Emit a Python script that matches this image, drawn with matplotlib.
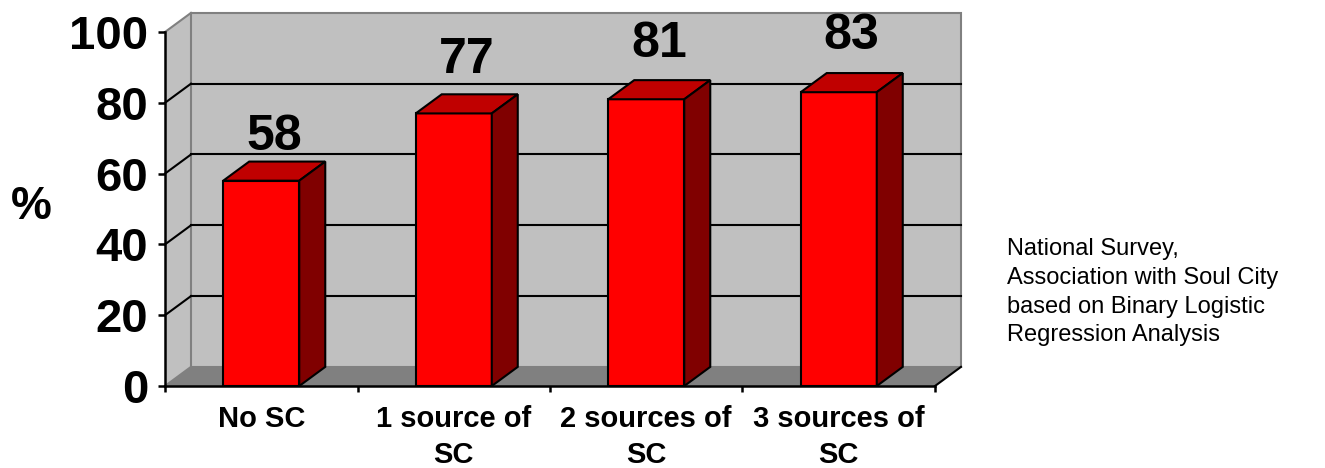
import matplotlib
matplotlib.use("Agg")
import matplotlib.pyplot as plt
from matplotlib.patches import Polygon

categories = ["No SC", "1 source of\nSC", "2 sources of\nSC", "3 sources of\nSC"]
values = [58, 77, 81, 83]
yticks = [0, 20, 40, 60, 80, 100]
note = "National Survey,\nAssociation with Soul City\nbased on Binary Logistic\nRegression Analysis"

plt.rcParams['font.family'] = ['Liberation Sans', 'DejaVu Sans']

FRONT = "#FF0000"
TOP = "#C00000"
SIDE = "#800000"
WALL = "#C0C0C0"
FLOOR = "#808080"
EDGE = "#808080"

# depth of the fake 3d box, in data units
DX = 0.135
DY = 5.4
BAR_W = 0.395

W, H = 1325, 468
fig = plt.figure(figsize=(W / 100, H / 100), dpi=100)
ax = fig.add_axes([165 / W, 1 - 386 / H, 770 / W, 354 / H])
n = len(categories)
ax.set_xlim(0, n)
ax.set_ylim(0, 100)
ax.set_facecolor("none")

# walls and floor
left_wall = Polygon([(0, 0), (DX, DY), (DX, 100 + DY), (0, 100)],
                    closed=True, facecolor=WALL, edgecolor="none", zorder=0, clip_on=False)
back_wall = Polygon([(DX, DY), (n + DX, DY), (n + DX, 100 + DY), (DX, 100 + DY)],
                    closed=True, facecolor=WALL, edgecolor=EDGE, lw=1.5, zorder=0, clip_on=False)
floor = Polygon([(0, 0), (n, 0), (n + DX, DY), (DX, DY)],
                closed=True, facecolor=FLOOR, edgecolor="none", zorder=0.5, clip_on=False)
for p in (left_wall, back_wall, floor):
    ax.add_patch(p)

for t in yticks:
    col = EDGE if t in (0, 100) else "black"
    ax.plot([0, DX], [t, t + DY], color=col, lw=1.5, zorder=1, clip_on=False)
    if 0 < t < 100:
        ax.plot([DX, n + DX], [t + DY, t + DY], color="black", lw=1.5, zorder=1, clip_on=False)
ax.plot([n, n + DX], [0, DY], color="black", lw=1.5, zorder=1, clip_on=False)

# bars
xs = [i + 0.5 for i in range(n)]
ax.bar(xs, values, width=BAR_W, color=FRONT, edgecolor="black", lw=1.5, zorder=3)
for x, v in zip(xs, values):
    x0, x1 = x - BAR_W / 2, x + BAR_W / 2
    top = Polygon([(x0, v), (x1, v), (x1 + DX, v + DY), (x0 + DX, v + DY)],
                  closed=True, facecolor=TOP, edgecolor="black", lw=1.5, zorder=3, clip_on=False)
    side = Polygon([(x1, 0), (x1 + DX, DY), (x1 + DX, v + DY), (x1, v)],
                   closed=True, facecolor=SIDE, edgecolor="black", lw=1.5, zorder=3, clip_on=False)
    ax.add_patch(top)
    ax.add_patch(side)
    ax.text(x + DX / 2, v * 1.147, str(v), ha="center", va="baseline",
            fontsize=36, fontweight="bold", zorder=4)

# axes
for s in ("top", "right"):
    ax.spines[s].set_visible(False)
for s in ("left", "bottom"):
    ax.spines[s].set_linewidth(1.8)
    ax.spines[s].set_zorder(5)
ax.set_yticks(yticks)
ax.set_yticklabels([str(t) for t in yticks], fontsize=34, fontweight="bold")
ax.tick_params(axis="y", direction="out", length=5, width=1.8, pad=7)
ax.set_xticks(range(n + 1))
ax.set_xticklabels([])
ax.tick_params(axis="x", which="major", direction="out", length=4.5, width=1.8)
ax.set_xticks(xs, minor=True)
ax.set_xticklabels(categories, minor=True, fontsize=21, fontweight="bold", linespacing=1.35)
ax.tick_params(axis="x", which="minor", length=0, pad=14)

fig.text(31 / W, 1 - 207 / H, "%", ha="center", va="center", fontsize=33, fontweight="bold")
fig.text(1007 / W, 1 - 238 / H, note, ha="left", va="top", fontsize=17, linespacing=1.4)

fig.savefig("out.png", dpi=100)
